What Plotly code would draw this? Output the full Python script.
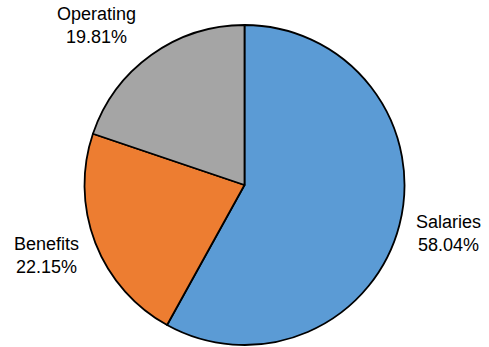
import plotly.graph_objects as go

# Budget breakdown
categories = ["Salaries", "Benefits", "Operating"]
shares = [58.04, 22.15, 19.81]
colors = ["#5B9BD5", "#ED7D31", "#A5A5A5"]

W, H = 489, 347

fig = go.Figure(
    go.Pie(
        labels=categories,
        values=shares,
        sort=False,
        direction="clockwise",
        rotation=0,
        marker=dict(colors=colors, line=dict(color="black", width=1.8)),
        textinfo="none",
        hoverinfo="label+percent",
        domain=dict(x=[0, 1], y=[2 / H, 1 - 25 / H]),
        showlegend=False,
    )
)

# Outside labels: category name and percentage of total
total = sum(shares)
label_pos = {"Salaries": (448, 233), "Benefits": (46, 255), "Operating": (96, 26)}
for name, v in zip(categories, shares):
    px, py = label_pos[name]
    fig.add_annotation(
        x=px / W, y=1 - py / H, xref="paper", yref="paper",
        text=f"{name}<br>{v / total * 100:.2f}%",
        showarrow=False, xanchor="center", yanchor="middle",
        font=dict(family="Liberation Sans, Arial, sans-serif", size=18, color="black"),
    )

fig.update_layout(
    width=W, height=H,
    margin=dict(l=0, r=0, t=0, b=0),
    paper_bgcolor="white",
    plot_bgcolor="white",
)

fig.write_html("out.html")
